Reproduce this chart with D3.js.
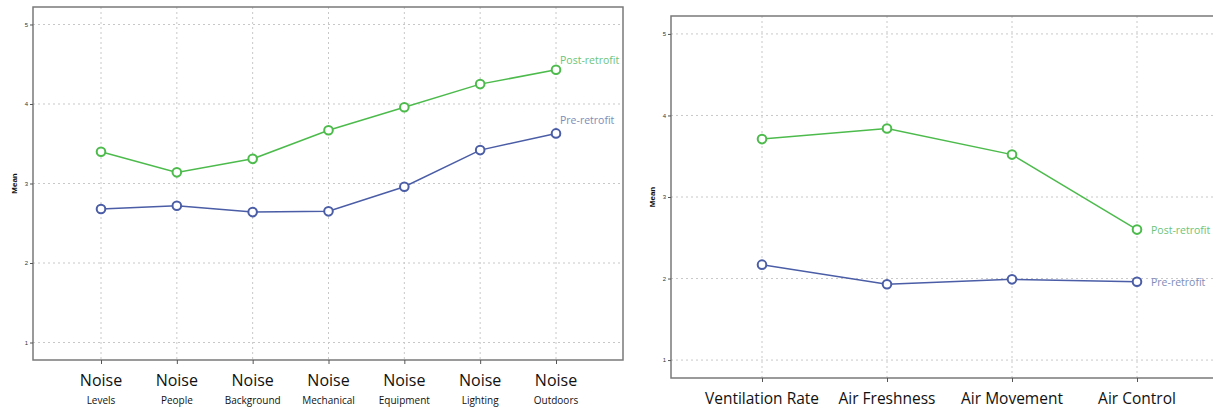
<!DOCTYPE html>
<html><head><meta charset="utf-8">
<script src="https://cdn.jsdelivr.net/npm/d3@7"></script>
<style>body{margin:0;background:#fff;}svg{display:block;}</style>
</head><body>
<svg id="c" width="1213" height="408"></svg>
<script>
const noiseCats = ["Levels","People","Background","Mechanical","Equipment","Lighting","Outdoors"];
const noisePost = [3.40,3.14,3.31,3.67,3.96,4.25,4.43];
const noisePre  = [2.68,2.72,2.64,2.65,2.96,3.42,3.63];
const airCats = ["Ventilation Rate","Air Freshness","Air Movement","Air Control"];
const airPost = [3.71,3.84,3.52,2.60];
const airPre  = [2.17,1.93,1.99,1.96];
const yTicks = [1,2,3,4,5];
const seriesNames = ["Post-retrofit","Pre-retrofit"];

const svg = d3.select("#c");
const green = "#4cbb4c", blue = "#4a5da6";
const greenText = "#6cc47a", blueText = "#7d8cb8";

function panel(o){
  const g = svg.append("g");
  const y = d3.scaleLinear().domain([0.78,5.22]).range([o.bottom,o.top]);
  const x = d3.scalePoint().domain(o.cats).range([o.x0,o.x1]);
  g.selectAll(".hg").data(yTicks).join("line")
    .attr("x1",o.left).attr("x2",o.right).attr("y1",d=>y(d)).attr("y2",d=>y(d))
    .attr("stroke","#c8c8c8").attr("stroke-width",1).attr("stroke-dasharray","2,3");
  g.selectAll(".vg").data(o.cats).join("line")
    .attr("x1",d=>x(d)).attr("x2",d=>x(d)).attr("y1",o.top).attr("y2",o.bottom)
    .attr("stroke","#c8c8c8").attr("stroke-width",1).attr("stroke-dasharray","2,3");
  const fr = g.append("path").attr("fill","none").attr("stroke","#7a7a7a").attr("stroke-width",1.5);
  if(o.closed) fr.attr("d",`M${o.left},${o.top}H${o.right}V${o.bottom}H${o.left}Z`);
  else fr.attr("d",`M${o.right},${o.top}H${o.left}V${o.bottom}H${o.right}`);
  const ya = g.append("g").attr("transform",`translate(${o.left},0)`)
    .call(d3.axisLeft(y).tickValues(yTicks).tickSize(3).tickPadding(2).tickFormat(d3.format("d")));
  ya.select(".domain").remove();
  ya.selectAll("line").attr("stroke","#555");
  ya.selectAll("text").attr("font-family","Arial, Liberation Sans, sans-serif").attr("font-size",6).attr("fill","#333");
  const xa = g.append("g").attr("transform",`translate(0,${o.bottom})`)
    .call(d3.axisBottom(x).tickSize(4).tickFormat(""));
  xa.select(".domain").remove();
  xa.selectAll("line").attr("stroke","#555");
  if(o.twoLine){
    g.selectAll(".xl1").data(o.cats).join("text")
      .attr("x",d=>x(d)).attr("y",o.bottom+26).attr("text-anchor","middle")
      .attr("font-family","Open Sans, sans-serif").attr("font-size",16).attr("fill","#111").text("Noise");
    g.selectAll(".xl2").data(o.cats).join("text")
      .attr("x",d=>x(d)).attr("y",o.bottom+44).attr("text-anchor","middle")
      .attr("font-family","Open Sans, sans-serif").attr("font-size",10).attr("fill","#111").text(d=>d);
  } else {
    g.selectAll(".xl").data(o.cats).join("text")
      .attr("x",d=>x(d)).attr("y",o.bottom+26).attr("text-anchor","middle")
      .attr("font-family","Open Sans, sans-serif").attr("font-size",15.5).attr("fill","#111").text(d=>d);
  }
  g.append("text").attr("transform",`translate(${o.titleX},${(o.top+o.bottom)/2}) rotate(-90)`)
    .attr("text-anchor","middle").attr("font-family","Arial, Liberation Sans, sans-serif")
    .attr("font-size",8).attr("font-weight","bold").attr("fill","#111").text("Mean");
  const line = d3.line().x((d,i)=>x(o.cats[i])).y(d=>y(d));
  [[o.post,green],[o.pre,blue]].forEach(([vals,col])=>{
    g.append("path").datum(vals).attr("d",line).attr("fill","none").attr("stroke",col).attr("stroke-width",1.5);
    g.selectAll(null).data(vals).join("circle")
      .attr("cx",(d,i)=>x(o.cats[i])).attr("cy",d=>y(d)).attr("r",4.3)
      .attr("fill","#fff").attr("stroke",col).attr("stroke-width",2);
  });
  const last = o.cats[o.cats.length-1];
  g.append("text").attr("x",x(last)+o.lab.dx).attr("y",y(o.post[o.post.length-1])+o.lab.dyPost)
    .attr("font-family","Open Sans, sans-serif").attr("font-size",10.5).attr("fill",greenText).text(seriesNames[0]);
  g.append("text").attr("x",x(last)+o.lab.dx).attr("y",y(o.pre[o.pre.length-1])+o.lab.dyPre)
    .attr("font-family","Open Sans, sans-serif").attr("font-size",10.5).attr("fill",blueText).text(seriesNames[1]);
}

panel({cats:noiseCats, post:noisePost, pre:noisePre, left:33, right:623, top:7, bottom:360,
  x0:101, x1:556, closed:true, twoLine:true, titleX:17,
  lab:{dx:4, dyPost:-6, dyPre:-9}});
panel({cats:airCats, post:airPost, pre:airPre, left:671, right:1213, top:16, bottom:378,
  x0:762, x1:1137, closed:false, twoLine:false, titleX:655,
  lab:{dx:14, dyPost:4, dyPre:4}});
</script>
</body></html>
